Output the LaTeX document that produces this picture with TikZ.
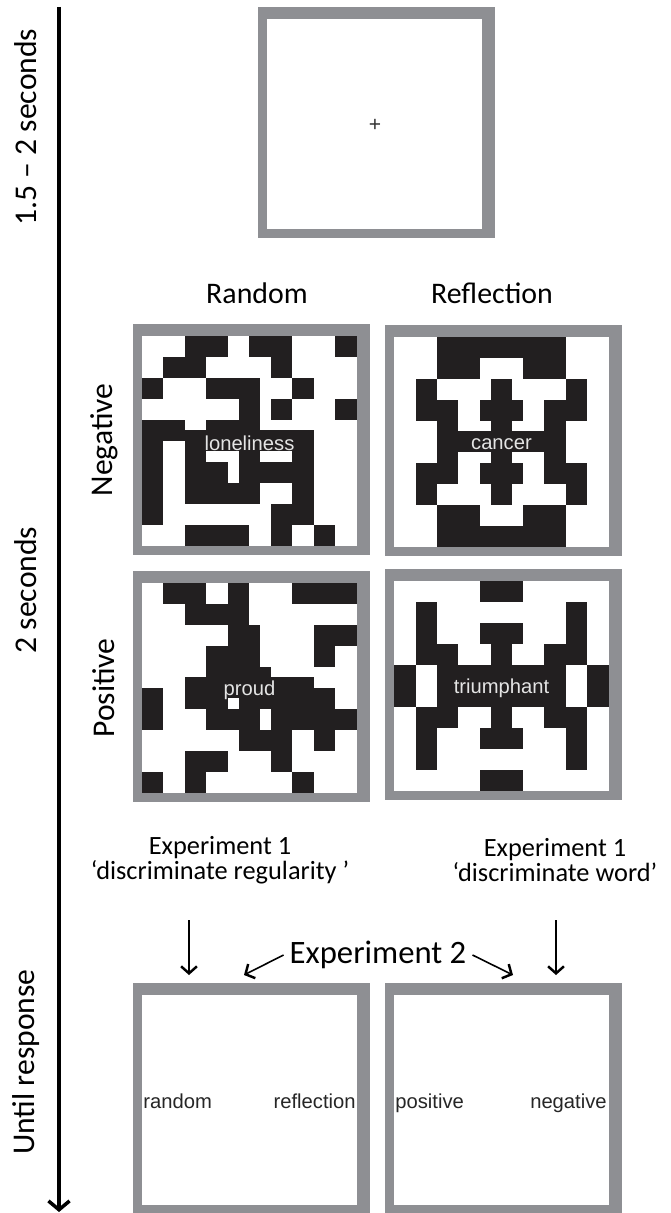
\documentclass[tikz,border=0pt]{standalone}
\usepackage{fontspec}
\setmainfont{Carlito}
\newfontfamily\wordfont{Liberation Sans}
\usetikzlibrary{positioning,arrows.meta}
\definecolor{frameGray}{HTML}{8E8F93}
\definecolor{cellInk}{HTML}{221F20}
\definecolor{wordInk}{HTML}{E4E4E4}

\begin{document}
\begin{tikzpicture}[
    x=0.02cm, y=-0.02cm,
    boxframe/.style = {fill=frameGray},
    hole/.style     = {fill=white},
    cell/.style     = {fill=cellInk},
    word/.style     = {font=\wordfont\fontsize{11.5}{12}\selectfont, text=wordInk, inner sep=0pt},
    choice/.style   = {font=\wordfont\fontsize{11.5}{12}\selectfont, text=black!85, inner sep=0pt},
    colhead/.style  = {font=\fontsize{17}{20}\selectfont, anchor=base, inner sep=0pt},
    rowhead/.style  = {font=\fontsize{18}{20}\selectfont, rotate=90, inner sep=0pt},
    timelbl/.style  = {font=\fontsize{18}{20}\selectfont, rotate=90, inner sep=0pt},
    exptext/.style  = {font=\fontsize{15}{14.2}\selectfont, align=center, inner sep=0pt},
    expbig/.style   = {font=\fontsize{18.6}{20}\selectfont},
    pointer/.style  = {line width=0.9pt, -{Straight Barb[length=4pt,width=9pt,line width=1.4pt]}},
    timeaxis/.style = {line width=2.2pt, -{Straight Barb[length=5pt,width=12pt,line width=2pt]}}
  ]
  \useasboundingbox (0,0) rectangle (671,1213);

  % frames: fixation, four stimuli, two response screens
  \foreach \fx/\fy in {258/7, 133/324, 385/325, 133/571, 385/569, 133/983, 385/983}{
    \fill[boxframe] (\fx,\fy) rectangle ++(237,231);
    \fill[hole] ({\fx+9},{\fy+12}) rectangle ({\fx+224},{\fy+222});
  }
  \node[font=\wordfont\fontsize{12}{12}\selectfont, text=black!80, inner sep=0pt] (fixcross) at (375,125) {+};

  % time axis
  \coordinate (ttop) at (59,7);
  \coordinate (tbot) at (59,1212);
  \draw[timeaxis] (ttop) -- (tbot);
  \node[timelbl] (tfix)  at (26,127)  {1.5 – 2 seconds};
  \node[timelbl] (tstim) at (26,590)  {2 seconds};
  \node[timelbl] (tresp) at (26,1062) {Until response};

  \node[colhead] (hrand) at (257,303) {Random};
  \node[colhead] (hrefl) at (492,303) {Reflection};
  \node[rowhead] (hneg)  at (104,440) {Negative};
  \node[rowhead] (hpos)  at (104,688) {Positive};

  % random / negative
  \begin{scope}[shift={(142,336)}, x=0.215cm, y=-0.21cm]
    \foreach \a/\b/\c/\d in {4/0/8/2, 10/0/14/2, 18/0/20/2, 2/2/6/4, 12/2/14/4,
        0/4/2/6, 6/4/11/6, 14/4/16/6, 9/6/11/8, 12/6/14/8, 18/6/20/8,
        0/8/4/10, 6/8/11/9, 4/9/16/11, 0/10/2/18, 4/11/6/12, 9/11/11/12, 14/11/16/12,
        4/12/8/14, 9/12/16/14, 4/14/11/16, 14/14/16/16, 12/16/16/18,
        4/18/10/20, 12/18/14/20, 16/18/18/20}
      \fill[cell] (\a,\b) rectangle (\c,\d);
    \node[word] (wneg) at (10,10.2) {loneliness};
  \end{scope}

  % reflection / negative
  \begin{scope}[shift={(394,337)}, x=0.215cm, y=-0.21cm]
    \foreach \a/\b/\c/\d in {4/0/16/2, 4/2/8/4, 12/2/16/4,
        2/4/4/6, 9/4/11/6, 16/4/18/6, 2/6/6/8, 8/6/12/8, 14/6/18/8,
        4/8/6/9, 9/8/11/9, 14/8/16/9, 4/9/16/11,
        4/11/6/12, 9/11/11/12, 14/11/16/12, 2/12/6/14, 8/12/12/14, 14/12/18/14,
        2/14/4/16, 9/14/11/16, 16/14/18/16, 4/16/8/18, 12/16/16/18, 4/18/16/20}
      \fill[cell] (\a,\b) rectangle (\c,\d);
    \node[word] (wcan) at (10,10.2) {cancer};
  \end{scope}

  % random / positive
  \begin{scope}[shift={(142,583)}, x=0.215cm, y=-0.21cm]
    \foreach \a/\b/\c/\d in {2/0/6/2, 8/0/10/2, 14/0/20/2, 4/2/10/4,
        8/4/11/6, 16/4/20/6, 6/6/11/8, 16/6/18/8, 6/8/12/9,
        4/9/16/12, 16/10/18/12, 0/10/2/14, 6/12/11/14, 12/12/20/14,
        9/14/14/16, 16/14/18/16, 4/16/8/18, 12/16/14/18,
        0/18/2/20, 4/18/6/20, 14/18/16/20}
      \fill[cell] (\a,\b) rectangle (\c,\d);
    \fill[hole] (8,11) rectangle (9,12);
    \node[word] (wpos) at (10,10.2) {proud};
  \end{scope}

  % reflection / positive
  \begin{scope}[shift={(394,581)}, x=0.215cm, y=-0.21cm]
    \foreach \a/\b/\c/\d in {8/0/12/2, 2/2/4/6, 16/2/18/6, 8/4/12/6,
        2/6/6/8, 9/6/11/8, 14/6/18/8, 0/8/2/12, 4/8/16/12, 18/8/20/12,
        2/12/6/14, 9/12/11/14, 14/12/18/14, 2/14/4/18, 8/14/12/16, 16/14/18/18,
        8/18/12/20}
      \fill[cell] (\a,\b) rectangle (\c,\d);
    \node[word] (wtri) at (10,10.2) {triumphant};
  \end{scope}

  % task labels
  \node[exptext] (expreg) at (220,860) {Experiment 1\\‘discriminate regularity ’};
  \node[exptext] (expword) at (555,860) {Experiment 1\\‘discriminate word’};
  \node[expbig] (exptwo) at (378,955) {Experiment 2};

  \coordinate (regtail) at (189,920);
  \coordinate (reghead) at (189,975);
  \coordinate (wordtail) at (556,920);
  \coordinate (wordhead) at (556,975);
  \coordinate (lefthead) at (244,975);
  \coordinate (righthead) at (513,975);
  \draw[pointer] (regtail) -- (reghead);
  \draw[pointer] (wordtail) -- (wordhead);
  \draw[pointer] (exptwo.west) -- (lefthead);
  \draw[pointer] (exptwo.east) -- (righthead);

  % response screens
  \node[choice, anchor=west] (crand) at (143,1101) {random};
  \node[choice, anchor=east] (crefl) at (356,1101) {reflection};
  \node[choice, anchor=west] (cpos)  at (395,1103) {positive};
  \node[choice, anchor=east] (cneg)  at (607,1103) {negative};
\end{tikzpicture}
\end{document}
